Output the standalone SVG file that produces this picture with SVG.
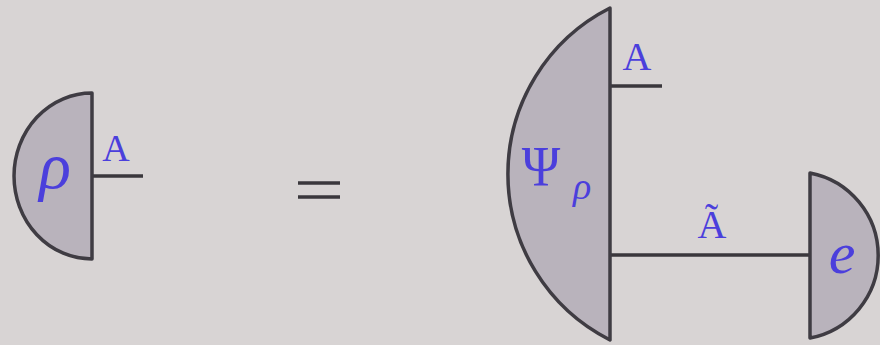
<svg xmlns="http://www.w3.org/2000/svg" width="880" height="345" viewBox="0 0 880 345">
<style>
.shape{fill:#b9b3bc;stroke:#3f3c43;stroke-width:3.5;stroke-linejoin:round}
.wire{stroke:#3a373c;stroke-width:3.5;fill:none}
.lbl{font-family:"Liberation Serif","DejaVu Serif",serif;fill:#4b3fdc}
</style>
<rect width="880" height="345" fill="#d8d4d4"/>
<g id="connectors">
<line class="wire" x1="92" y1="176" x2="143" y2="176"/>
<line class="wire" x1="610" y1="86" x2="662" y2="86"/>
<line class="wire" x1="610" y1="255" x2="810" y2="255"/>
</g>
<g id="rho">
<path class="shape" d="M92,93 A78,83 0 0 0 92,259 Z"/>
<text class="lbl" x="55" y="188" font-size="66" font-style="italic" text-anchor="middle">ρ</text>
<text class="lbl" x="116" y="161" font-size="38" text-anchor="middle">A</text>
</g>
<g id="equals">
<line class="wire" x1="298" y1="183" x2="340" y2="183" stroke-width="5.5"/>
<line class="wire" x1="298" y1="197" x2="340" y2="197" stroke-width="5.5"/>
</g>
<g id="psi">
<path class="shape" d="M610,8 A186,186 0 0 0 610,340 Z"/>
<text class="lbl" x="541" y="186" font-size="58" text-anchor="middle" transform="translate(541 0) scale(0.9 1) translate(-541 0)">Ψ</text>
<text class="lbl" x="582" y="199" font-size="38" font-style="italic" text-anchor="middle">ρ</text>
<text class="lbl" x="637" y="70" font-size="40" text-anchor="middle">A</text>
<text class="lbl" x="712" y="238" font-size="40" text-anchor="middle">Ã</text>
</g>
<g id="e">
<path class="shape" d="M810,173 A84,84 0 0 1 810,338 Z"/>
<text class="lbl" x="842" y="273" font-size="60" font-style="italic" text-anchor="middle">e</text>
</g>
</svg>
